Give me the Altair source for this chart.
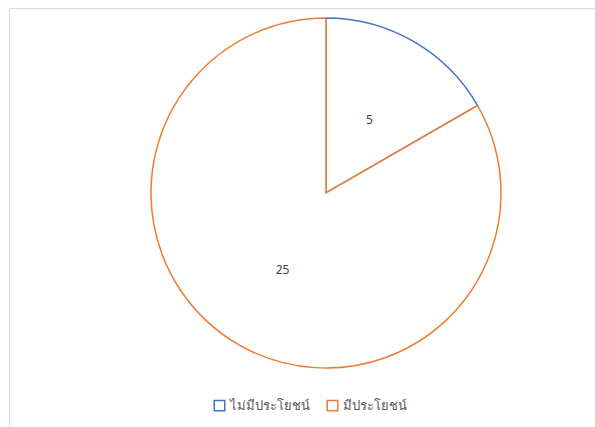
import altair as alt
import pandas as pd

categories = ["ไม่มีประโยชน์", "มีประโยชน์"]
values = [5, 25]
colors = ["#4472C4", "#ED7D31"]

df = pd.DataFrame({"cat": categories, "val": values, "order": [0, 1]})

frame = alt.Chart(pd.DataFrame({"a": [0]})).mark_rect(
    fill="white", stroke="#d9d9d9", strokeWidth=1
).encode(x=alt.value(9.5), x2=alt.value(620), y=alt.value(8.5), y2=alt.value(440))

base = alt.Chart(df).encode(
    theta=alt.Theta("val:Q", stack=True),
    order=alt.Order("order:Q"),
)

arcs = base.mark_arc(radius=175, fill="white", strokeWidth=1.5).encode(
    x=alt.value(326),
    y=alt.value(193),
    stroke=alt.Stroke(
        "cat:N",
        scale=alt.Scale(domain=categories, range=colors),
        sort=categories,
        legend=alt.Legend(
            title=None,
            orient="none",
            legendX=213,
            legendY=399,
            direction="horizontal",
            symbolType="square",
            symbolSize=110,
            symbolFillColor="white",
            symbolStrokeWidth=1.5,
            labelFont="Noto Sans",
            labelFontSize=13,
            labelColor="#595959",
            columnPadding=14,
        ),
    ),
)

labels = base.mark_text(radius=87, fontSize=12, color="#404040", font="Noto Sans", dy=2).encode(
    x=alt.value(326),
    y=alt.value(193),
    text="val:Q",
)

chart = alt.layer(frame, arcs, labels).properties(
    width=595, height=427, autosize=alt.AutoSizeParams(type="none"), padding=0
).configure_view(stroke=None)

chart.save("out.html", embed_options={"renderer": "svg", "actions": False})
